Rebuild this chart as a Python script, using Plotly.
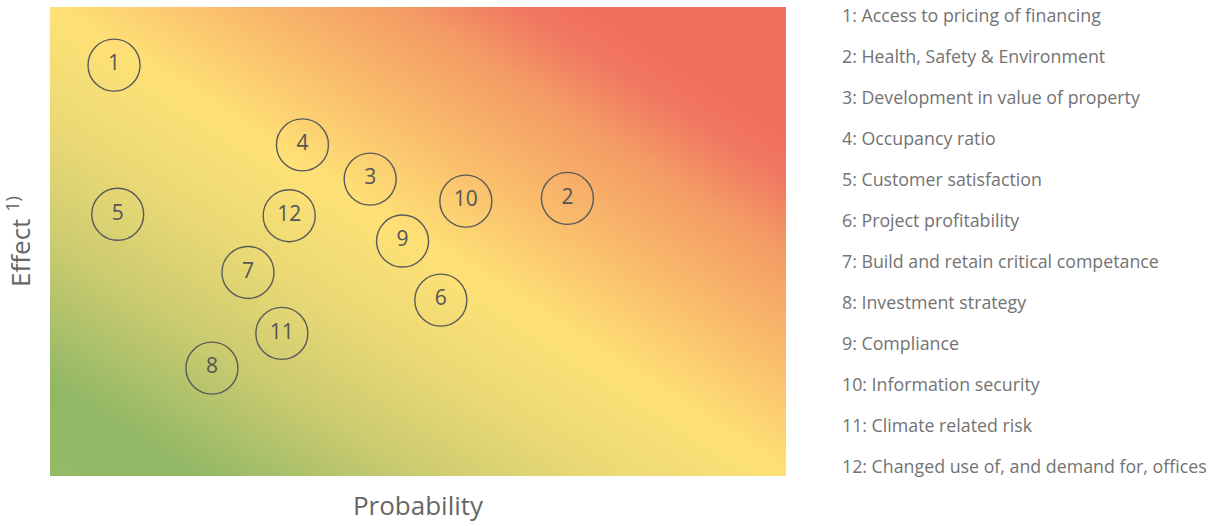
import numpy as np
import plotly.graph_objects as go

# Risk items: id, probability (x) and effect (y) on a 0-100 scale
risk_ids = [1, 2, 3, 4, 5, 6, 7, 8, 9, 10, 11, 12]
probability = [8.7, 70.3, 43.5, 34.3, 9.2, 53.1, 26.9, 22.0, 47.9, 56.5, 31.5, 32.5]
effect = [87.6, 59.2, 63.3, 70.6, 55.8, 37.5, 43.4, 23.0, 50.1, 58.6, 30.4, 55.5]
risk_names = [
    "Access to pricing of financing",
    "Health, Safety & Environment",
    "Development in value of property",
    "Occupancy ratio",
    "Customer satisfaction",
    "Project profitability",
    "Build and retain critical competance",
    "Investment strategy",
    "Compliance",
    "Information security",
    "Climate related risk",
    "Changed use of, and demand for, offices",
]

FONT = "Open Sans"
TEXT_GREY = "#666666"
RING_GREY = "#5a5a5a"

# Diagonal heat background: green (low/low) -> yellow -> red (high/high)
grid = np.linspace(0, 100, 81)
gx, gy = np.meshgrid(grid, grid)
heat = (gx + gy) / 100.0
heat_scale = [
    [0.00, "#94b967"],
    [0.10, "#92b866"],
    [0.25, "#cbcb70"],
    [0.375, "#ebd975"],
    [0.50, "#fee176"],
    [0.625, "#f9bb6b"],
    [0.74, "#f49a65"],
    [0.82, "#f17661"],
    [0.86, "#f0705e"],
    [1.00, "#f0705e"],
]

fig = go.Figure()
fig.add_trace(go.Heatmap(
    x=grid, y=grid, z=heat, zmin=0, zmax=2,
    colorscale=heat_scale, zsmooth="best",
    showscale=False, hoverinfo="skip",
))
fig.add_trace(go.Scatter(
    x=probability, y=effect,
    mode="markers+text",
    text=[str(i) for i in risk_ids],
    textposition="middle center",
    textfont=dict(family=FONT, size=21, color="#555555"),
    marker=dict(size=52, color="rgba(0,0,0,0)",
                line=dict(color=RING_GREY, width=1.4)),
    hovertext=risk_names, hoverinfo="text",
    showlegend=False,
))

# Numbered key on the right-hand side
plot_top, plot_bottom = 7, 476
for k, (rid, name) in enumerate(zip(risk_ids, risk_names)):
    y_px = 15.5 + k * 40.95
    fig.add_annotation(
        x=(840 - 50) / 736, y=(plot_bottom - y_px) / (plot_bottom - plot_top),
        xref="paper", yref="paper", xanchor="left", yanchor="middle",
        text=f"{rid}: {name}", showarrow=False,
        font=dict(family=FONT, size=17.8, color="#737373"),
    )

fig.update_layout(
    width=1222, height=526,
    margin=dict(l=50, r=436, t=7, b=50),
    paper_bgcolor="white", plot_bgcolor="white",
    font=dict(family=FONT, color=TEXT_GREY),
    xaxis=dict(range=[0, 100], showgrid=False, zeroline=False,
               showticklabels=False, ticks="",
               title=dict(text="Probability", standoff=20,
                          font=dict(family=FONT, size=26, color=TEXT_GREY))),
    yaxis=dict(range=[0, 100], showgrid=False, zeroline=False,
               showticklabels=False, ticks="",
               title=dict(text="Effect <sup>1)</sup>", standoff=10,
                          font=dict(family=FONT, size=26, color=TEXT_GREY))),
)

fig.write_html("out.html")
